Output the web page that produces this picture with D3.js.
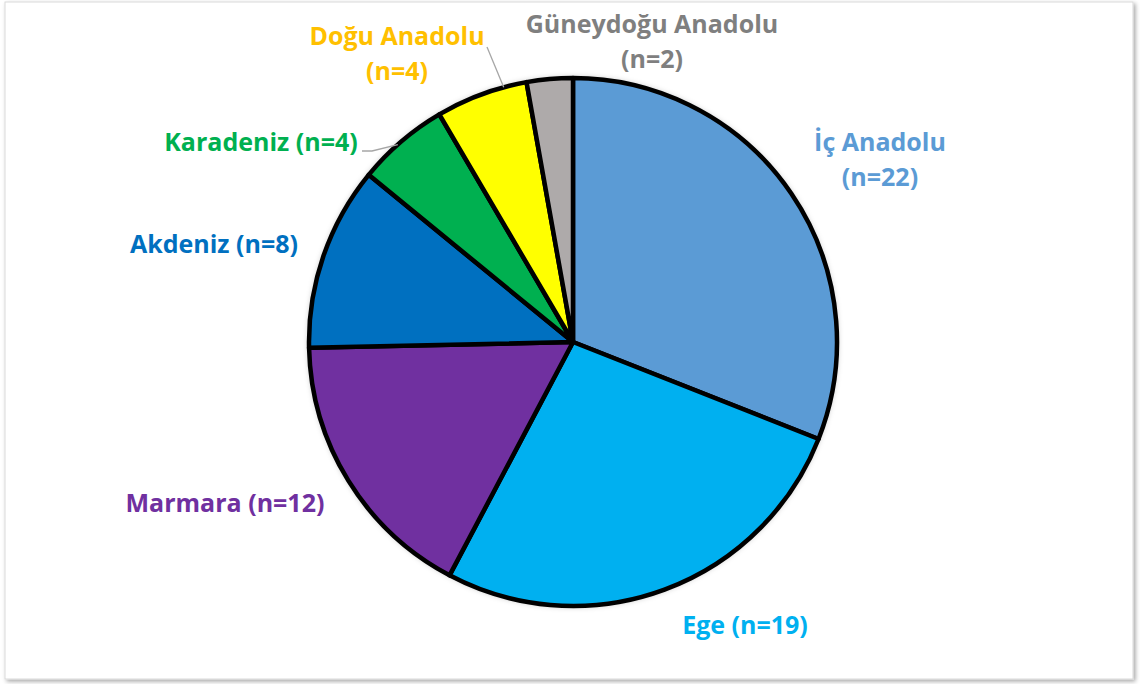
<!DOCTYPE html>
<html>
<head>
<meta charset="utf-8">
<script src="https://cdn.jsdelivr.net/npm/d3@7"></script>
<style>
  body { margin: 0; background: #fff; }
  svg { display: block; }
</style>
</head>
<body>
<svg id="chart"></svg>
<script>

// data
const regions = ["İç Anadolu", "Ege", "Marmara", "Akdeniz", "Karadeniz", "Doğu Anadolu", "Güneydoğu Anadolu"];
const counts = [22, 19, 12, 8, 4, 4, 2];
const sliceColors = ["#5b9bd5", "#00b0f0", "#7030a0", "#0070c0", "#00b050", "#ffff00", "#aeaaaa"];
const labelColors = ["#5b9bd5", "#00b0f0", "#7030a0", "#0070c0", "#00b050", "#ffc000", "#7f7f7f"];

// label layout (centre x, first baseline y)
const labelLayout = [
        {x: 880, y: 151, split: true},
        {x: 745, y: 634},
        {x: 225, y: 512},
        {x: 214, y: 253},
        {x: 261, y: 151},
        {x: 397, y: 45, split: true},
        {x: 652, y: 33, split: true}
]

const width = 1140, height = 684;
const cx = 573, cy = 342, radius = 264;

const svg = d3.select("#chart").attr("width", width).attr("height", height);

const defs = svg.append("defs");

let frameShadow = defs.append("filter").attr("id", "frameShadow")
        .attr("x", "-5%").attr("y", "-5%").attr("width", "110%").attr("height", "110%");
frameShadow.append("feDropShadow")
        .attr("dx", 2).attr("dy", 2).attr("stdDeviation", 2)
        .attr("flood-color", "#000").attr("flood-opacity", 0.35);

let pieShadow = defs.append("filter").attr("id", "pieShadow")
        .attr("x", "-10%").attr("y", "-10%").attr("width", "120%").attr("height", "120%");
pieShadow.append("feDropShadow")
        .attr("dx", 0).attr("dy", 0).attr("stdDeviation", 3)
        .attr("flood-color", "#000").attr("flood-opacity", 0.35);

// chart frame
svg.append("rect")
        .attr("x", 5).attr("y", 2)
        .attr("width", 1128).attr("height", 677)
        .attr("fill", "#fff")
        .attr("stroke", "#d9d9d9")
        .attr("stroke-width", 1)
        .attr("filter", "url(#frameShadow)");

const pie = d3.pie().sort(null).value(d => d)(counts);
const arc = d3.arc().innerRadius(0).outerRadius(radius);

const g = svg.append("g").attr("transform", `translate(${cx}, ${cy})`);

g.append("circle").attr("r", radius).attr("fill", "#fff").attr("filter", "url(#pieShadow)");

g.selectAll("path.slice")
        .data(pie)
        .join("path")
        .attr("class", "slice")
        .attr("d", arc)
        .attr("fill", (d, i) => sliceColors[i])
        .attr("stroke", "#000")
        .attr("stroke-width", 4.5)
        .attr("stroke-linejoin", "round");

// leader lines for the small slices
const leader = d3.line();
const edge = (i, frac) => {
        let a = pie[i].startAngle + (pie[i].endAngle - pie[i].startAngle) * frac;
        return [cx + radius * Math.sin(a), cy - radius * Math.cos(a)];
};
svg.append("path")
        .attr("d", leader([[362, 151], [372, 151], edge(4, 0.45)]))
        .attr("fill", "none").attr("stroke", "#a6a6a6").attr("stroke-width", 1.3);
svg.append("path")
        .attr("d", leader([[487, 47], edge(5, 0.75)]))
        .attr("fill", "none").attr("stroke", "#a6a6a6").attr("stroke-width", 1.3);

// labels
labelLayout.forEach((L, i) => {
        let n = `(n=${counts[i]})`;
        let lines = L.split ? [regions[i], n] : [`${regions[i]} ${n}`];
        svg.append("text")
                .attr("x", L.x).attr("y", L.y)
                .attr("text-anchor", "middle")
                .attr("font-family", "'Open Sans', sans-serif")
                .attr("font-weight", "bold")
                .attr("font-size", 25)
                .attr("fill", labelColors[i])
                .selectAll("tspan")
                .data(lines)
                .join("tspan")
                .attr("x", L.x)
                .attr("dy", (d, idx) => idx ? 35 : 0)
                .text(d => d);
});

</script>
</body>
</html>
